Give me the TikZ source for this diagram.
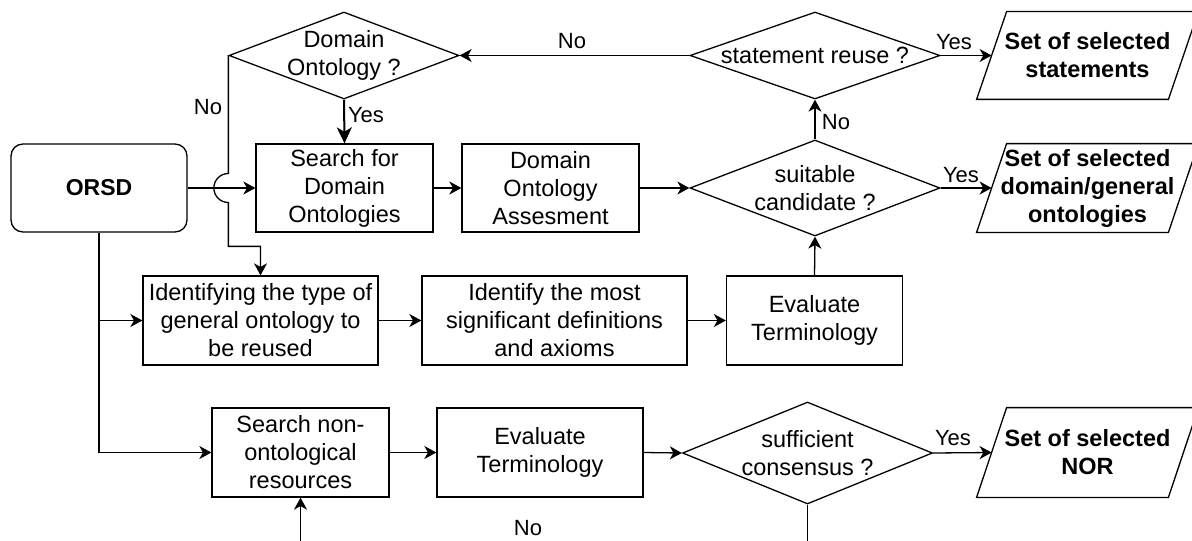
\documentclass[tikz,border=0pt]{standalone}
\usepackage{fontspec}
\setmainfont{Liberation Sans}
\usetikzlibrary{shapes.geometric,arrows.meta,calc}

\tikzset{
  txt/.style={font=\fontsize{11.75}{14}\selectfont, align=center, text=black},
  lbl/.style={font=\fontsize{11}{13}\selectfont, text=black, inner sep=0pt},
  procbox/.style={draw, line width=0.65pt, rectangle, txt, inner sep=0pt},
  startbox/.style={procbox, rounded corners=6pt, font=\fontsize{11.5}{14}\selectfont\bfseries},
  decision/.style={draw, line width=0.65pt, diamond, inner sep=0pt},
  dtext/.style={txt, inner sep=0pt},
  outbox/.style={rectangle, inner sep=0pt, minimum width=110.5pt,
    font=\fontsize{11.75}{14}\selectfont\bfseries, align=center},
  slanted/.style={draw, line width=0.65pt},
  conn/.style={line width=0.65pt},
  arr/.style={conn, -{Stealth[length=6pt, width=6.5pt, inset=1.8pt]}},
  bigarr/.style={line width=1pt, -{Stealth[length=8pt, width=7.5pt, inset=2.2pt]}},
}

\begin{document}
\begin{tikzpicture}[x=0.5pt, y=-0.5pt]
\useasboundingbox (0,0) rectangle (1192,540);
\clip (0,0) rectangle (1192,540);

% start
\node[startbox, minimum width=88pt, minimum height=44pt] (orsd) at (99,188) {ORSD};

% domain ontology branch
\node[decision, minimum width=115pt, minimum height=43.5pt,
  label={[dtext]center:Domain\\Ontology ?}] (dq) at (344,55.5) {};
\node[procbox, minimum width=88.5pt, minimum height=44pt] (sdo) at (344.5,188)
  {Search for\\Domain\\Ontologies};
\node[procbox, minimum width=88.5pt, minimum height=44pt] (doa) at (550.5,188)
  {Domain\\Ontology\\Assesment};
\node[decision, minimum width=125pt, minimum height=48pt,
  label={[dtext]center:suitable\\candidate ?}] (sc) at (815,188) {};
\node[decision, minimum width=125pt, minimum height=43.5pt,
  label={[dtext]center:statement reuse ?}] (sr) at (815,55.5) {};

% general ontology branch
\node[procbox, minimum width=117.5pt, minimum height=44.5pt] (idt) at (260.5,320.5)
  {Identifying the type of\\general ontology to\\be reused};
\node[procbox, minimum width=132.5pt, minimum height=44.5pt] (imd) at (554.5,320.5)
  {Identify the most\\significant definitions\\and axioms};
\node[procbox, minimum width=88pt, minimum height=44.5pt] (et1) at (814.5,320.5)
  {Evaluate\\Terminology};

% non-ontological resources branch
\node[procbox, minimum width=88.5pt, minimum height=44.5pt] (snr) at (300.5,452.5)
  {Search non-\\ontological\\resources};
\node[procbox, minimum width=103pt, minimum height=44.5pt] (et2) at (540,452.5)
  {Evaluate\\Terminology};
\node[decision, minimum width=125pt, minimum height=51pt,
  label={[dtext]center:sufficient\\consensus ?}] (cs) at (807.5,453) {};

% outputs: text boxes with slanted (data) outlines
\node[outbox, minimum height=43.5pt] (p1) at (1087.5,55.5) {Set of selected\\statements};
\node[outbox, minimum height=44pt] (p2) at (1087.5,188) {Set of selected\\domain/general\\ontologies};
\node[outbox, minimum height=44.5pt] (p3) at (1087.5,452.5) {Set of selected\\NOR};
\foreach \p in {p1,p2,p3} {
  \draw[slanted] (\p.south west) -- ($(\p.north west)+(30,0)$) -- (\p.north east)
    -- ($(\p.south east)+(-30,0)$) -- cycle;
}
\coordinate (p1in) at ($(p1.west)+(15,0)$);
\coordinate (p2in) at ($(p2.west)+(15,0)$);
\coordinate (p3in) at ($(p3.west)+(15,0)$);

% connectors
\coordinate (hop) at (dq.west |- orsd.east);
\draw[arr] (orsd.east) -- (sdo.west);
\draw[arr] (dq.west) -- ([yshift=7.25pt]hop)
  arc[start angle=90, end angle=270, radius=7.25pt]
  -- ($(dq.west |- idt.north)+(0,-29)$) -| (idt.north);
\node[lbl] (lno1) at (208,107) {No};

\draw[bigarr] (dq.south) -- (sdo.north);
\node[lbl] (lyes1) at (366,115) {Yes};

\draw[arr] (sdo.east) -- (doa.west);
\draw[arr] (doa.east) -- (sc.west);
\draw[arr] (sc.north) -- (sr.south);
\node[lbl] (lno2) at (836,122) {No};
\draw[arr] (sr.west) -- (dq.east);
\node[lbl] (lno3) at (572,41) {No};
\draw[arr] (sr.east) -- (p1in);
\node[lbl] (lyes2) at (954,42) {Yes};
\draw[arr] (sc.east) -- (p2in);
\node[lbl] (lyes3) at (961,175) {Yes};

\draw[arr] (orsd.south) |- (idt.west);
\draw[arr] (orsd.south) |- (snr.west);
\draw[arr] (idt.east) -- (imd.west);
\draw[arr] (imd.east) -- (et1.west);
\draw[arr] (et1.north) -- (sc.south);

\draw[arr] (snr.east) -- (et2.west);
\draw[arr] (et2.east) -- (cs.west);
\draw[arr] (cs.east) -- (p3in);
\node[lbl] (lyes4) at (953,438) {Yes};
\draw[arr] (cs.south) -- ++(0,70) -| (snr.south);
\node[lbl] (lno4) at (528,528) {No};
\end{tikzpicture}
\end{document}
